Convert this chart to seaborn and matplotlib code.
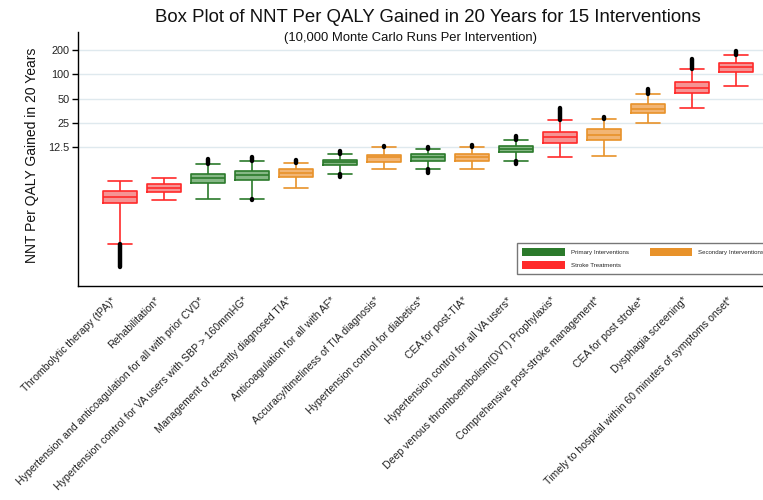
import numpy as np
import pandas as pd
import matplotlib
matplotlib.use("Agg")
import matplotlib.pyplot as plt
import matplotlib.transforms as mtransforms
from matplotlib.patches import Patch
from matplotlib.ticker import NullLocator, FixedLocator
import seaborn as sns

names = [
    "Thrombolytic therapy (tPA)*",
    "Rehabilitation*",
    "Hypertension and anticoagulation for all with prior CVD*",
    "Hypertension control for VA users with SBP > 160mmHG*",
    "Management of recently diagnosed TIA*",
    "Anticoagulation for all with AF*",
    "Accuracy/timeliness of TIA diagnosis*",
    "Hypertension control for diabetics*",
    "CEA for post-TIA*",
    "Hypertension control for all VA users*",
    "Deep venous thromboembolism(DVT) Prophylaxis*",
    "Comprehensive post-stroke management*",
    "CEA for post stroke*",
    "Dysphagia screening*",
    "Timely to hospital within 60 minutes of symptoms onset*",
]
P, S, T = "Primary Interventions", "Secondary Interventions", "Stroke Treatments"
groups = [T, T, P, P, S, P, S, P, S, P, T, S, S, T, T]

whislo = [0.80, 2.76, 2.84, 2.89, 3.88, 5.84, 6.67, 6.67, 6.67, 8.53, 9.40, 9.84, 25.2, 38.7, 71.8]
q1 = [2.53, 3.52, 4.55, 4.96, 5.40, 7.55, 8.29, 8.53, 8.46, 11.0, 14.0, 15.4, 33.0, 58.3, 108.0]
med = [3.05, 3.91, 5.16, 5.62, 6.06, 8.15, 9.40, 9.40, 9.40, 11.9, 16.6, 17.75, 37.3, 68.4, 122.5]
q3 = [3.59, 4.35, 5.89, 6.36, 6.67, 8.70, 10.04, 10.24, 10.32, 12.97, 19.5, 20.9, 42.6, 81.2, 137.0]
whishi = [4.78, 5.16, 7.70, 8.46, 8.05, 10.32, 12.5, 11.8, 12.7, 15.4, 27.2, 27.8, 57.2, 115.7, 174.0]
out_hi = [np.nan, np.nan, 8.88, 9.57, 8.70, 11.25, 12.9, 12.7, 13.35, 17.25, 38.0, 29.9, 65.4, 155.0, 195.0]
out_lo = [0.41, np.nan, np.nan, 2.78, np.nan, 5.31, np.nan, 6.06, np.nan, 7.70, np.nan, np.nan, np.nan, np.nan, np.nan]

yticks = [12.5, 25, 50, 100, 200]
yticklabels = ["12.5", "25", "50", "100", "200"]

sns.set_style("white")
plt.rcParams["font.family"] = ["Liberation Sans", "DejaVu Sans"]

edge_colors = {P: "#2b7a2b", S: "#e8922a", T: "#ff2a2a"}
fill_colors = {P: "#86b886", S: "#f2b574", T: "#f59494"}
hue_order = [P, S, T]

rows = []
for n, g, a, b, c, d, e in zip(names, groups, whislo, q1, med, q3, whishi):
    for v in (a, b, c, d, e):
        rows.append({"name": n, "group": g, "value": v})
df = pd.DataFrame(rows)

fig = plt.figure(figsize=(7.63, 5.0), dpi=100)
ax = fig.add_axes([78 / 763, 1 - 286 / 500, (765 - 78) / 763, (286 - 32) / 500])

common = dict(data=df, x="name", y="value", hue="group", order=names,
              hue_order=hue_order, dodge=False, width=0.77, whis=(0, 100),
              showfliers=False, saturation=1, legend=False, ax=ax)
sns.boxplot(palette=fill_colors, fill=True, linewidth=0, **common)
sns.boxplot(palette=edge_colors, fill=False, linewidth=1.2, capwidths=0.55, **common)

pos = np.arange(len(names))
hi = np.array(out_hi, float)
lo = np.array(out_lo, float)
wh = np.array(whishi, float)
wl = np.array(whislo, float)
m = ~np.isnan(hi)
lc1 = ax.vlines(pos[m], wh[m], hi[m], colors="black", linewidth=3.2, zorder=5)
lc1.set_capstyle("round")
m2 = ~np.isnan(lo)
lc2 = ax.vlines(pos[m2], lo[m2], wl[m2], colors="black", linewidth=3.2, zorder=5)
lc2.set_capstyle("round")

ax.set_yscale("log", base=2)
ax.set_ylim(0.239, 335)
ax.set_xlim(-0.9545, 14.66)
ax.yaxis.set_major_locator(FixedLocator(yticks))
ax.set_yticklabels(yticklabels)
ax.yaxis.set_minor_locator(NullLocator())
ax.grid(axis="y", color="#dfe9ee", linewidth=1)
ax.grid(axis="x", visible=False)
ax.set_axisbelow(True)

for s in ("top", "right"):
    ax.spines[s].set_visible(False)
for s in ("left", "bottom"):
    ax.spines[s].set_color("black")
    ax.spines[s].set_linewidth(1)

ax.tick_params(axis="y", left=True, length=4, width=1, color="black",
               labelsize=7.8, pad=2, labelcolor="#222222")
ax.tick_params(axis="x", bottom=False, length=0, labelsize=7.6, pad=4)
ax.set_xlabel("")
ax.set_ylabel("")
offset = mtransforms.ScaledTranslation(-9 / 100, -4 / 100, fig.dpi_scale_trans)
for lab in ax.get_xticklabels():
    lab.set_rotation(45)
    lab.set_ha("right")
    lab.set_va("top")
    lab.set_rotation_mode("anchor")
    lab.set_color("#222222")
    lab.set_transform(lab.get_transform() + offset)

fig.text(428 / 763, 1 - 18 / 500, "Box Plot of NNT Per QALY Gained in 20 Years for 15 Interventions",
         ha="center", va="center", fontsize=13.4, color="#111111")
fig.text(410 / 763, 1 - 38 / 500, "(10,000 Monte Carlo Runs Per Intervention)",
         ha="center", va="center", fontsize=9.4, color="#111111")
fig.text(32 / 763, 1 - 155 / 500, "NNT Per QALY Gained in 20 Years",
         ha="center", va="center", rotation=90, fontsize=10, color="#111111")

handles = [Patch(facecolor=edge_colors[P], edgecolor="none", label=P),
           Patch(facecolor=edge_colors[T], edgecolor="none", label=T),
           Patch(facecolor=edge_colors[S], edgecolor="none", label=S)]
leg = ax.legend(handles=handles, ncol=2, loc="upper left",
                bbox_to_anchor=(517 / 763, 1 - 243 / 500), bbox_transform=fig.transFigure,
                borderaxespad=0, fontsize=4.4, handlelength=7, handleheight=1.7,
                handletextpad=1.0, columnspacing=3.4, labelspacing=0.8,
                borderpad=0.8, frameon=True, fancybox=False)
leg.get_frame().set_edgecolor("#555555")
leg.get_frame().set_linewidth(1)

fig.savefig("out.png", dpi=100)
